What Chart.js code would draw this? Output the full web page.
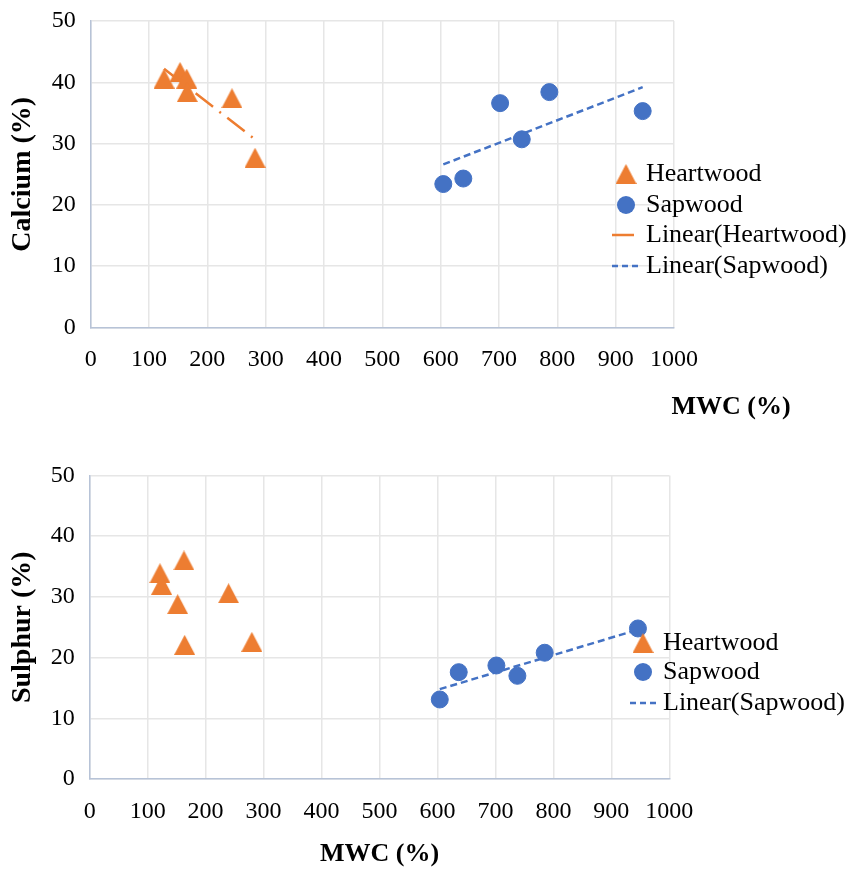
<!DOCTYPE html>
<html>
<head>
<meta charset="utf-8">
<script src="https://cdn.jsdelivr.net/npm/chart.js@4.4.1/dist/chart.umd.min.js"></script>
<style>
  html, body { margin: 0; padding: 0; background: #fff; }
  canvas { display: block; }
</style>
</head>
<body>
<canvas id="calcium" width="851" height="432"></canvas>
<canvas id="sulphur" width="851" height="437"></canvas>
<script>
// axis ticks
const xTicks = [0, 100, 200, 300, 400, 500, 600, 700, 800, 900, 1000];
const yTicks = [0, 10, 20, 30, 40, 50];

// Calcium vs MWC
const caHeartMwc = [125.7, 153.1, 164.6, 165.6, 242.2, 281.7];
const caHeart = [40.6, 41.7, 40.6, 38.4, 37.4, 27.7];
const caSapMwc = [604.5, 638.8, 701.9, 739.0, 786.3, 946.3];
const caSap = [23.4, 24.3, 36.6, 30.7, 38.4, 35.3];
const caHeartTrendMwc = [125.7, 281.7];
const caHeartTrend = [42.2, 30.7];
const caSapTrendMwc = [604.5, 946.3];
const caSapTrend = [26.6, 39.2];

// Sulphur vs MWC
const sHeartMwc = [121.2, 124.0, 151.7, 162.6, 163.8, 239.6, 279.8];
const sHeart = [33.9, 32.0, 28.8, 36.0, 22.1, 30.6, 22.6];
const sSapMwc = [604.0, 636.7, 701.7, 737.9, 785.0, 945.9];
const sSap = [13.1, 17.6, 18.7, 17.0, 20.8, 24.8];
const sSapTrendMwc = [604.0, 945.9];
const sSapTrend = [14.8, 24.6];

const ORANGE = '#ED7D31';
const BLUE = '#4472C4';
const SERIF = '"Liberation Serif", "Times New Roman", serif';

const pts = (xs, ys) => xs.map((x, i) => ({ x: x, y: ys[i] }));

// excel style triangle marker, centred on its box
function triangleMarker(w, h, color) {
    const c = document.createElement('canvas');
    c.width = w;
    c.height = h;
    const g = c.getContext('2d');
    g.fillStyle = color;
    g.beginPath();
    g.moveTo(w / 2, 0);
    g.lineTo(w, h);
    g.lineTo(0, h);
    g.closePath();
    g.fill();
    return c;
}
const tri = triangleMarker(21, 20, ORANGE);

// draws the legend + free titles on top of the plot
const extras = {
    id: 'extras',
    afterDraw(chart, args, opts) {
        const ctx = chart.ctx;
        ctx.save();
        ctx.textBaseline = 'middle';
        ctx.textAlign = 'left';
        (opts.items || []).forEach(function (it) {
            if (it.kind === 'tri') {
                ctx.drawImage(tri, opts.markX - 10.5, it.y - 10);
            } else if (it.kind === 'dot') {
                ctx.fillStyle = BLUE;
                ctx.beginPath();
                ctx.arc(opts.markX, it.y, 9, 0, Math.PI * 2);
                ctx.fill();
            } else {
                ctx.strokeStyle = it.color;
                ctx.lineWidth = 2.5;
                ctx.setLineDash(it.dash);
                ctx.beginPath();
                ctx.moveTo(it.x0, it.y);
                ctx.lineTo(it.x1, it.y);
                ctx.stroke();
                ctx.setLineDash([]);
            }
            ctx.fillStyle = '#000';
            ctx.font = '26px ' + SERIF;
            ctx.fillText(it.text, opts.textX, it.y);
        });
        if (opts.xTitle) {
            ctx.textAlign = 'center';
            ctx.font = 'bold 26px ' + SERIF;
            ctx.fillStyle = '#000';
            ctx.fillText(opts.xTitle.text, opts.xTitle.x, opts.xTitle.y);
        }
        ctx.restore();
    }
};

function makeChart(id, datasets, lay, yTitle, xTitleBuiltIn, extraOpts) {
    return new Chart(document.getElementById(id).getContext('2d'), {
        type: 'scatter',
        data: { datasets: datasets },
        plugins: [extras],
        options: {
            responsive: false,
            animation: false,
            layout: { padding: { left: 0, top: lay.top, right: lay.right, bottom: 0 } },
            plugins: {
                legend: { display: false },
                tooltip: { enabled: false },
                extras: extraOpts
            },
            scales: {
                x: {
                    type: 'linear',
                    min: 0,
                    max: 1000,
                    afterBuildTicks: s => { s.ticks = xTicks.map(v => ({ value: v })); },
                    afterFit: s => {
                        s.height = lay.xHeight;
                        s.paddingLeft = 0;
                        s.paddingRight = 0;
                    },
                    grid: { color: '#E6E6E6', lineWidth: 1.5, drawTicks: false },
                    border: { color: '#B7C3D7', width: 1.5 },
                    ticks: {
                        color: '#000',
                        font: { family: SERIF, size: 24 },
                        padding: 18,
                        maxRotation: 0,
                        autoSkip: false,
                        callback: v => String(v)
                    },
                    title: {
                        display: xTitleBuiltIn,
                        text: 'MWC (%)',
                        color: '#000',
                        font: { family: SERIF, size: 26, weight: 'bold', lineHeight: 1.1 },
                        padding: { top: 0, bottom: 0 }
                    }
                },
                y: {
                    min: 0,
                    max: 50,
                    afterBuildTicks: s => { s.ticks = yTicks.map(v => ({ value: v })); },
                    afterFit: s => {
                        s.width = lay.yWidth;
                        s.paddingTop = 0;
                        s.paddingBottom = 0;
                    },
                    grid: { color: '#E6E6E6', lineWidth: 1.5, drawTicks: false },
                    border: { color: '#B7C3D7', width: 1.5 },
                    ticks: { color: '#000', font: { family: SERIF, size: 24 }, padding: 15, callback: v => String(v) },
                    title: {
                        display: true,
                        text: yTitle,
                        color: '#000',
                        font: { family: SERIF, size: 28, weight: 'bold', lineHeight: 1.2 },
                        padding: { top: 6, bottom: 0 }
                    }
                }
            }
        }
    });
}

makeChart('calcium', [
    { label: 'Heartwood', data: pts(caHeartMwc, caHeart), pointStyle: tri, pointRadius: 11, backgroundColor: ORANGE, order: 1 },
    { label: 'Sapwood', data: pts(caSapMwc, caSap), pointStyle: 'circle', pointRadius: 8.5, pointBorderWidth: 1, backgroundColor: BLUE, borderColor: BLUE, order: 1 },
    { label: 'Linear(Heartwood)', data: pts(caHeartTrendMwc, caHeartTrend), showLine: true, pointRadius: 0, borderColor: ORANGE, borderWidth: 2.5, borderDash: [22, 8, 2, 8], order: 2 },
    { label: 'Linear(Sapwood)', data: pts(caSapTrendMwc, caSapTrend), showLine: true, pointRadius: 0, borderColor: BLUE, borderWidth: 2.5, borderDash: [7, 4], order: 2 }
], { top: 21, right: 177, xHeight: 104.5, yWidth: 90.7 }, 'Calcium (%)', false, {
    markX: 626,
    textX: 646,
    items: [
        { kind: 'tri', y: 174, text: 'Heartwood' },
        { kind: 'dot', y: 205, text: 'Sapwood' },
        { kind: 'line', y: 235, x0: 612, x1: 634, color: ORANGE, dash: [], text: 'Linear(Heartwood)' },
        { kind: 'line', y: 266, x0: 612, x1: 640, color: BLUE, dash: [6, 4], text: 'Linear(Sapwood)' }
    ],
    xTitle: { text: 'MWC (%)', x: 731, y: 407 }
});

makeChart('sulphur', [
    { label: 'Heartwood', data: pts(sHeartMwc, sHeart), pointStyle: tri, pointRadius: 11, backgroundColor: ORANGE, order: 1 },
    { label: 'Sapwood', data: pts(sSapMwc, sSap), pointStyle: 'circle', pointRadius: 8.5, pointBorderWidth: 1, backgroundColor: BLUE, borderColor: BLUE, order: 1 },
    { label: 'Linear(Sapwood)', data: pts(sSapTrendMwc, sSapTrend), showLine: true, pointRadius: 0, borderColor: BLUE, borderWidth: 2.5, borderDash: [7, 4], order: 2 }
], { top: 43.5, right: 181.7, xHeight: 90, yWidth: 89.7 }, 'Sulphur (%)', true, {
    markX: 643,
    textX: 663,
    items: [
        { kind: 'tri', y: 211, text: 'Heartwood' },
        { kind: 'dot', y: 240, text: 'Sapwood' },
        { kind: 'line', y: 271, x0: 630, x1: 657, color: BLUE, dash: [6, 4], text: 'Linear(Sapwood)' }
    ]
});
</script>
</body>
</html>
